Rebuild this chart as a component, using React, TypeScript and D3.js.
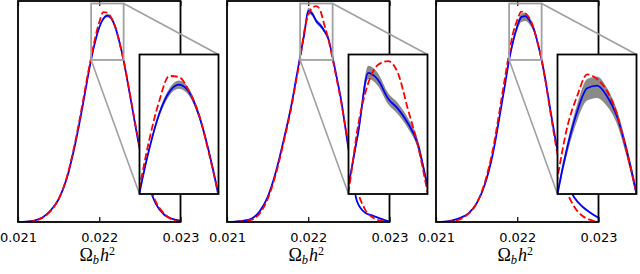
import React, { useEffect, useRef } from 'react';
import * as d3 from 'd3';

// shared Omega_b h^2 grid (finer around the peak, where the insets zoom in)
const omegaGrid = [
  0.021, 0.0211, 0.0212, 0.0213, 0.0214, 0.0215, 0.0216, 0.0217, 0.0218, 0.02185,
  0.0219, 0.02195, 0.022, 0.02205, 0.0221, 0.02215, 0.0222, 0.02225, 0.0223, 0.02235,
  0.0224, 0.0225, 0.0226, 0.0227, 0.0228, 0.0229, 0.023,
];

// left panel
const bluePosteriorA = [0, 0.002, 0.007, 0.022, 0.055, 0.11, 0.21, 0.37, 0.57, 0.68, 0.785, 0.872, 0.94, 0.982, 0.997, 0.983, 0.938, 0.868, 0.78, 0.675, 0.565, 0.35, 0.19, 0.085, 0.035, 0.015, 0.006];
const redPosteriorA = [0, 0.001, 0.006, 0.02, 0.052, 0.11, 0.215, 0.38, 0.585, 0.695, 0.795, 0.89, 0.965, 1.014, 1.012, 0.985, 0.94, 0.865, 0.78, 0.68, 0.57, 0.36, 0.2, 0.095, 0.04, 0.01, 0];
const bandUpA = [0.001, 0.001, 0.002, 0.002, 0.003, 0.003, 0.003, 0.004, 0.004, 0.004, 0.004, 0.005, 0.006, 0.007, 0.008, 0.007, 0.006, 0.005, 0.004, 0.004, 0.004, 0.003, 0.003, 0.002, 0.002, 0.001, 0.001];
const bandDownA = [0.001, 0.001, 0.002, 0.002, 0.003, 0.003, 0.003, 0.004, 0.004, 0.004, 0.004, 0.005, 0.006, 0.007, 0.008, 0.007, 0.006, 0.005, 0.004, 0.004, 0.004, 0.003, 0.003, 0.002, 0.002, 0.001, 0.001];

// middle panel
const bluePosteriorB = [0, 0.002, 0.006, 0.016, 0.05, 0.12, 0.24, 0.4, 0.58, 0.69, 0.8, 0.905, 1.02, 1.006, 0.97, 0.95, 0.922, 0.882, 0.797, 0.7, 0.6, 0.34, 0.1, 0.045, 0.03, 0.015, 0.002];
const redPosteriorB = [0, 0.001, 0.004, 0.01, 0.04, 0.11, 0.23, 0.39, 0.57, 0.68, 0.787, 0.92, 1.0, 1.036, 1.043, 1.02, 0.95, 0.88, 0.787, 0.69, 0.59, 0.36, 0.16, 0.06, 0.02, 0.005, 0];
const bandUpB = [0.001, 0.001, 0.002, 0.002, 0.003, 0.003, 0.004, 0.004, 0.005, 0.005, 0.006, 0.009, 0.014, 0.013, 0.011, 0.011, 0.01, 0.009, 0.007, 0.006, 0.005, 0.004, 0.003, 0.002, 0.002, 0.001, 0.001];
const bandDownB = [0.001, 0.001, 0.002, 0.002, 0.003, 0.003, 0.004, 0.004, 0.005, 0.005, 0.006, 0.008, 0.012, 0.012, 0.011, 0.011, 0.01, 0.009, 0.007, 0.006, 0.005, 0.004, 0.003, 0.002, 0.002, 0.001, 0.001];

// right panel
const bluePosteriorC = [0, 0.002, 0.008, 0.02, 0.042, 0.09, 0.18, 0.33, 0.55, 0.665, 0.783, 0.875, 0.945, 0.99, 0.995, 0.975, 0.936, 0.868, 0.783, 0.68, 0.56, 0.34, 0.2, 0.12, 0.075, 0.045, 0.02];
const redPosteriorC = [0, 0, 0.004, 0.014, 0.04, 0.09, 0.19, 0.35, 0.58, 0.7, 0.815, 0.915, 0.975, 1.017, 1.008, 0.985, 0.94, 0.866, 0.785, 0.675, 0.55, 0.32, 0.16, 0.075, 0.03, 0.01, 0];
const bandUpC = [0.001, 0.001, 0.002, 0.003, 0.004, 0.005, 0.006, 0.007, 0.008, 0.008, 0.008, 0.01, 0.014, 0.018, 0.018, 0.016, 0.013, 0.011, 0.009, 0.008, 0.007, 0.006, 0.005, 0.004, 0.003, 0.002, 0.001];
const bandDownC = [0.001, 0.001, 0.002, 0.003, 0.004, 0.005, 0.006, 0.007, 0.008, 0.008, 0.008, 0.012, 0.018, 0.024, 0.024, 0.02, 0.015, 0.012, 0.009, 0.008, 0.007, 0.006, 0.005, 0.004, 0.003, 0.002, 0.001];

const xTicks = [0.021, 0.022, 0.023];
const xTickLabels = ['0.021', '0.022', '0.023'];

// zoom window shown in the insets
const zoomX = [0.0219, 0.0223];
const zoomY = [0.783, 1.056];

const panels = [
  { blue: bluePosteriorA, red: redPosteriorA, up: bandUpA, down: bandDownA },
  { blue: bluePosteriorB, red: redPosteriorB, up: bandUpB, down: bandDownB },
  { blue: bluePosteriorC, red: redPosteriorC, up: bandUpC, down: bandDownC },
];

const App = () => {
  const svgRef = useRef<SVGSVGElement>(null);

  useEffect(() => {
    const svg = d3.select(svgRef.current);
    svg.selectAll('*').remove();

    const top = 1;
    const bottom = 222;
    const plotW = 162.5;
    const inset = { dx: 121.5, top: 54.5, w: 79, h: 139.5 };
    const defs = svg.append('defs');

    panels.forEach((p, i) => {
      const left = 18 + i * 209;
      const g = svg.append('g');

      const x = d3.scaleLinear().domain([0.021, 0.023]).range([left, left + plotW]);
      const y = d3.scaleLinear().domain([0, 1.068]).range([bottom, top]);

      const rows = omegaGrid.map((o, k) => ({ o, b: p.blue[k], r: p.red[k], hi: p.blue[k] + p.up[k], lo: p.blue[k] - p.down[k] }));

      const drawCurves = (sel, xs, ys, clipId) => {
        const c = sel.append('g').attr('clip-path', `url(#${clipId})`);
        c.append('path')
          .datum(rows)
          .attr('fill', '#8a8a8a')
          .attr('d', d3.area().x(d => xs(d.o)).y0(d => ys(d.lo)).y1(d => ys(d.hi)).curve(d3.curveMonotoneX));
        c.append('path')
          .datum(rows)
          .attr('fill', 'none')
          .attr('stroke', '#0000ff')
          .attr('stroke-width', 1.8)
          .attr('d', d3.line().x(d => xs(d.o)).y(d => ys(d.b)).curve(d3.curveMonotoneX));
        c.append('path')
          .datum(rows)
          .attr('fill', 'none')
          .attr('stroke', '#ff0000')
          .attr('stroke-width', 1.8)
          .attr('stroke-dasharray', '7,3')
          .attr('d', d3.line().x(d => xs(d.o)).y(d => ys(d.r)).curve(d3.curveMonotoneX));
      };

      // main plot
      defs.append('clipPath').attr('id', `main${i}`)
        .append('rect').attr('x', left).attr('y', top).attr('width', plotW).attr('height', bottom - top);
      drawCurves(g, x, y, `main${i}`);

      g.append('rect')
        .attr('x', left).attr('y', top).attr('width', plotW).attr('height', bottom - top)
        .attr('fill', 'none').attr('stroke', '#000').attr('stroke-width', 1.8);

      // inward ticks top and bottom
      const bottomAxis = g.append('g')
        .attr('transform', `translate(0,${bottom})`)
        .call(d3.axisBottom(x).tickValues(xTicks).tickSize(-5).tickPadding(10.5)
          .tickFormat((d, k) => xTickLabels[k]));
      bottomAxis.select('.domain').remove();
      bottomAxis.selectAll('line').attr('stroke-width', 1.2);
      bottomAxis.attr('font-family', 'DejaVu Sans').attr('font-size', 13);
      bottomAxis.selectAll('text').attr('fill', '#000');

      const topAxis = g.append('g')
        .attr('transform', `translate(0,${top})`)
        .call(d3.axisTop(x).tickValues(xTicks).tickSize(-5).tickFormat(() => ''));
      topAxis.select('.domain').remove();
      topAxis.selectAll('line').attr('stroke-width', 1.2);

      // x label
      const label = g.append('text')
        .attr('x', left + plotW / 2 - 2)
        .attr('y', 261)
        .attr('text-anchor', 'middle')
        .attr('font-family', 'Liberation Serif')
        .attr('font-size', 18);
      label.append('tspan').text('Ω');
      label.append('tspan').attr('font-style', 'italic').attr('font-size', 12.5).attr('dy', 3).text('b');
      label.append('tspan').attr('font-style', 'italic').attr('dy', -3).attr('dx', 1).text('h');
      label.append('tspan').attr('font-size', 12).attr('dy', -6).text('2');

      // zoom box and connectors
      const ix = d3.scaleLinear().domain(zoomX).range([left + inset.dx, left + inset.dx + inset.w]);
      const iy = d3.scaleLinear().domain(zoomY).range([inset.top + inset.h, inset.top]);

      g.append('rect')
        .attr('x', x(zoomX[0])).attr('y', y(zoomY[1]))
        .attr('width', x(zoomX[1]) - x(zoomX[0])).attr('height', y(zoomY[0]) - y(zoomY[1]))
        .attr('fill', 'none').attr('stroke', '#a0a0a0').attr('stroke-width', 1.8);
      g.append('line')
        .attr('x1', x(zoomX[1])).attr('y1', y(zoomY[1]))
        .attr('x2', ix(zoomX[1])).attr('y2', iy(zoomY[1]))
        .attr('stroke', '#a0a0a0').attr('stroke-width', 1.6);
      g.append('line')
        .attr('x1', x(zoomX[0])).attr('y1', y(zoomY[0]))
        .attr('x2', ix(zoomX[0])).attr('y2', iy(zoomY[0]))
        .attr('stroke', '#a0a0a0').attr('stroke-width', 1.6);

      // inset
      g.append('rect')
        .attr('x', left + inset.dx).attr('y', inset.top).attr('width', inset.w).attr('height', inset.h)
        .attr('fill', '#fff');
      defs.append('clipPath').attr('id', `inset${i}`)
        .append('rect').attr('x', left + inset.dx).attr('y', inset.top).attr('width', inset.w).attr('height', inset.h);
      drawCurves(g, ix, iy, `inset${i}`);
      g.append('rect')
        .attr('x', left + inset.dx).attr('y', inset.top).attr('width', inset.w).attr('height', inset.h)
        .attr('fill', 'none').attr('stroke', '#000').attr('stroke-width', 1.8);
    });
  }, []);

  return (
    <svg
      ref={svgRef}
      width={640}
      height={274}
      style={{ position: 'absolute', left: 0, top: 0, background: '#fff' }}
    />
  );
};

export default App;
